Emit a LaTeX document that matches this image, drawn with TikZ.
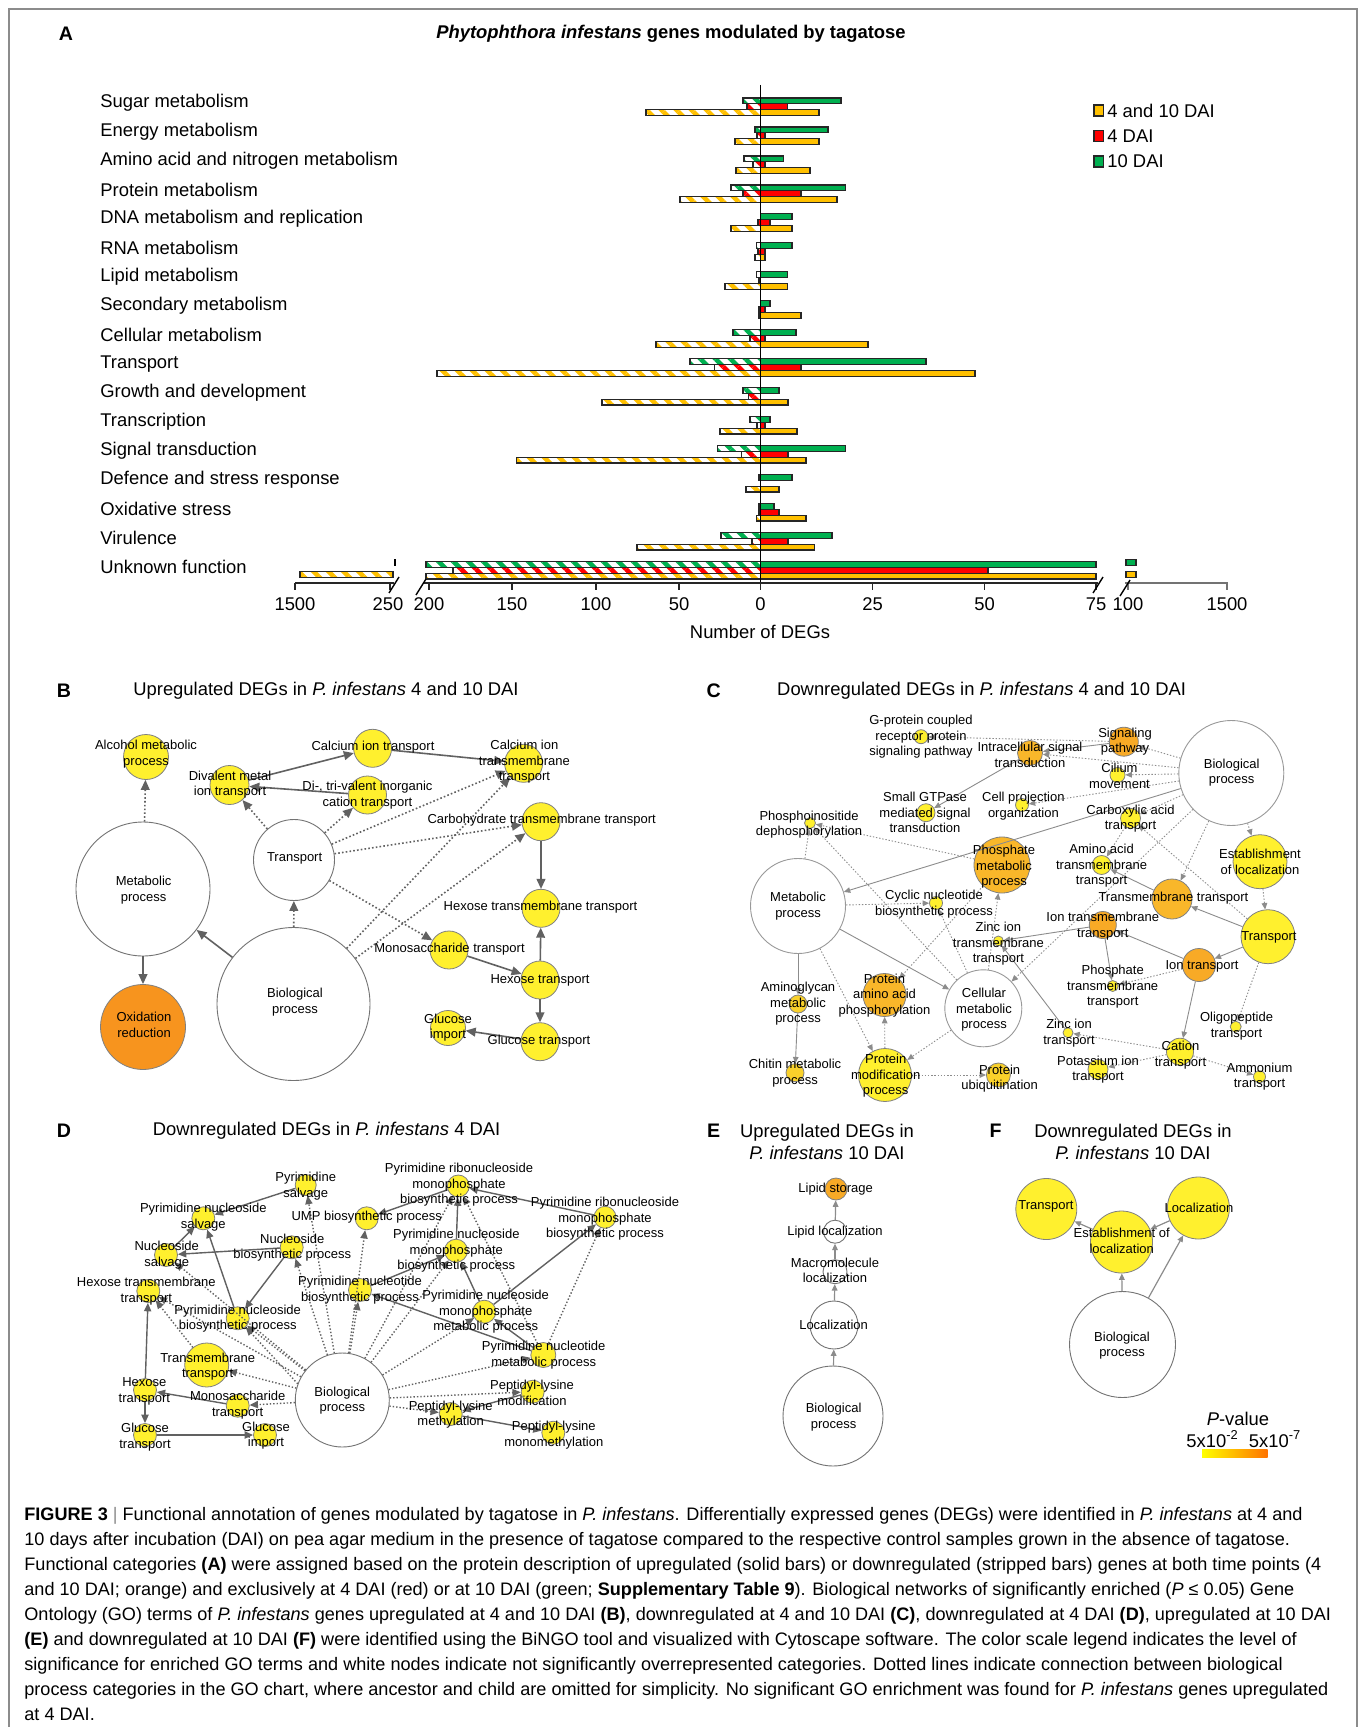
\documentclass[tikz,border=0pt]{standalone}
\usepackage{fontspec}
\setmainfont{Liberation Sans}
\newfontfamily\capfont{Liberation Sans}
\usetikzlibrary{shapes.geometric,arrows.meta,patterns.meta}
\definecolor{cgold}{HTML}{FFC000}
\definecolor{cred}{HTML}{FF0000}
\definecolor{cgreen}{HTML}{00B050}
\definecolor{ny}{HTML}{FFF02E}
\definecolor{nyo}{HTML}{F9D12B}
\definecolor{no1}{HTML}{F9B72A}
\definecolor{no}{HTML}{F8AA26}
\definecolor{nod}{HTML}{F7941E}
\newcommand\nf{\fontsize{6.5}{7.7}\selectfont}
\newcommand\tf{\fontsize{9.2}{11}\selectfont}
\tikzset{
 barl/.style={draw=black!85, line width=0.6pt},
 hatchG/.style={preaction={fill=white}, preaction={pattern={Lines[angle=-45,distance=5.3pt,line width=2.3pt]}, pattern color=cgreen}},
 hatchR/.style={preaction={fill=white}, preaction={pattern={Lines[angle=-45,distance=5.3pt,line width=2.3pt]}, pattern color=cred}},
 hatchO/.style={preaction={fill=white}, preaction={pattern={Lines[angle=-45,distance=5.3pt,line width=2.3pt]}, pattern color=cgold}},
 catl/.style={font=\tf, anchor=west, inner sep=0},
 tick/.style={font=\tf, inner sep=0},
 yn/.style={circle, draw=black!50, line width=0.4pt, fill=ny, inner sep=0},
 wn/.style={circle, draw=black!55, line width=0.45pt, fill=white, inner sep=0},
 lb/.style={font=\nf, align=center, inner sep=0},
 eBs/.style={draw=black!62, line width=0.8pt, -{Triangle[length=5pt,width=4.4pt]}},
 eBd/.style={eBs, dash pattern=on 0.8pt off 1.1pt},
 eCs/.style={draw=black!45, line width=0.45pt, -{Triangle[length=3.2pt,width=2.8pt]}},
 eCd/.style={eCs, dash pattern=on 0.7pt off 0.9pt},
 eDs/.style={draw=black!62, line width=0.7pt, -{Triangle[length=4.2pt,width=3.6pt]}},
 eDd/.style={eDs, dash pattern=on 0.7pt off 1pt},
 plet/.style={font=\fontsize{9.8}{11}\selectfont\bfseries, inner sep=0},
 capl/.style={anchor=base west, inner sep=0, font=\capfont\fontsize{9.05}{10}\selectfont},
}
\begin{document}
\begin{tikzpicture}[x=0.5pt,y=-0.5pt]
\useasboundingbox (0,0) rectangle (1360,1727);
\fill[white] (0,0) rectangle (1360,1727);
\draw[black!45, line width=0.8pt] (9,1727) -- (9,9) -- (1357,9) -- (1357,1727);

% ---------------- Panel A ----------------
\node[plet] (lA) at (66,34) {A};
\node[font=\tf\bfseries, inner sep=0] (tA) at (671,34) {\itshape Phytophthora infestans\upshape{} genes modulated by tagatose};

\foreach \i/\gR/\gL/\rR/\rL/\oR/\oL in {
0/841/743/787.5/747/819/646,
1/828/755/765/757/819/735,
2/783.5/744/765/753/810/736,
3/845.5/731/801/743/837/680,
4/792/760.5/770/758/792/731,
5/792/756.5/765/758/765/755,
6/787.5/756.5/760.5/759/787.5/725,
7/770/760.5/765/759/801/759,
8/796/733/765/750/868/656,
9/926/690/801/714.5/975/437,
10/779/743/760.5/748.5/788/602,
11/770/750/765/757/797/720,
12/845.5/717.5/788/741.6/806/516.5,
13/792/759/760.5/760.5/779/746,
14/774/759/779/759/806/756.5,
15/832/721/788/752/814.5/637,
16/1096/426/988/453/1096/426}{
 \pgfmathsetmacro\ta{98+28.97*\i}
 \pgfmathsetmacro\tb{\ta+5.8}
 \pgfmathsetmacro\tc{\ta+11.6}
 \pgfmathsetmacro\td{\ta+17.4}
 \draw[barl, hatchG] (\gL,\ta) rectangle (760.5,\tb);
 \draw[barl, hatchR] (\rL,\tb) rectangle (760.5,\tc);
 \draw[barl, hatchO] (\oL,\tc) rectangle (760.5,\td);
 \draw[barl, fill=cgreen] (760.5,\ta) rectangle (\gR,\tb);
 \draw[barl, fill=cred] (760.5,\tb) rectangle (\rR,\tc);
 \draw[barl, fill=cgold] (760.5,\tc) rectangle (\oR,\td);
}
% extra segments of Unknown function
\draw[barl, hatchO] (300,571.7) rectangle (393,577.5);
\draw[barl, fill=cgreen] (1126,559.5) rectangle (1136,565.3);
\draw[barl, fill=cgold] (1126,571.7) rectangle (1136,577.5);
\draw[black, line width=0.6pt] (395,559) -- (395,566);

\foreach \i/\t in {0/Sugar metabolism,1/Energy metabolism,2/Amino acid and nitrogen metabolism,3/Protein metabolism,4/DNA metabolism and replication,5/RNA metabolism,6/Lipid metabolism,7/Secondary metabolism,8/Cellular metabolism,9/Transport,10/Growth and development,11/Transcription,12/Signal transduction,13/Defence and stress response,14/Oxidative stress,15/Virulence,16/Unknown function}{
 \node[catl] (cat\i) at (100,103+28.97*\i) {\t};
}
% zero line and axis
\draw[black, line width=0.8pt] (760.5,85) -- (760.5,583);
\draw[black!85, line width=0.8pt] (295,583) -- (394,583);
\draw[black!85, line width=0.8pt] (423,583) -- (1098,583);
\draw[black!55, line width=0.8pt] (1125,583) -- (1228,583);
\foreach \x in {295,390,429,512,596,679,760.5,872.5,984.5,1096}{\draw[black!85, line width=0.7pt] (\x,583) -- (\x,590);}
\foreach \x in {1128,1227}{\draw[black!55, line width=0.7pt] (\x,583) -- (\x,590);}
\foreach \x/\y in {394/585,421/587,1098/585,1125/588}{\draw[black, line width=0.7pt] (\x-5,\y+8) -- (\x+5,\y-8);}
\foreach \x/\l in {295/1500,388/250,429/200,512/150,596/100,679/50,760.5/0,872.5/25,984.5/50,1096/75,1128/100,1227/1500}{\node[tick] at (\x,604.5) {\l};}
\node[tick] (xlab) at (760,632) {Number of DEGs};
% legend
\draw[barl, fill=cgold] (1094,105) rectangle (1103.5,116);
\draw[barl, fill=cred] (1094,130.5) rectangle (1103.5,141.5);
\draw[barl, fill=cgreen] (1094,156) rectangle (1103.5,167);
\node[catl] (lg1) at (1107,110.5) {4 and 10 DAI};
\node[catl] (lg2) at (1107,136) {4 DAI};
\node[catl] (lg3) at (1107,161.5) {10 DAI};

% ---------------- Panel B ----------------
\node[plet] (lB) at (64,690.5) {B};
\node[font=\tf, inner sep=0] (tB) at (326,690.5) {Upregulated DEGs in \textit{P. infestans} 4 and 10 DAI};
\node[wn, minimum size=67pt] (bMP) at (143,889) {};
\node[circle, draw=black!50, fill=nod, inner sep=0, minimum size=42.5pt] (bOX) at (143,1027) {};
\node[wn, minimum size=76.5pt] (bBP) at (293.5,1004) {};
\node[wn, minimum size=40.5pt] (bTR) at (294,860) {};
\node[yn, minimum size=22.5pt] (bAL) at (146,757) {};
\node[yn, minimum size=19.5pt] (bDV) at (229.5,785) {};
\node[yn, minimum size=19pt] (bCA) at (372.6,748.3) {};
\node[yn, minimum size=19pt] (bDT) at (367.5,795) {};
\node[yn, minimum size=19pt] (bCT) at (523.6,763.3) {};
\node[yn, minimum size=19pt] (bCH) at (541,821.7) {};
\node[yn, minimum size=19pt] (bHM) at (541,908.3) {};
\node[yn, minimum size=19pt] (bMS) at (449,950) {};
\node[yn, minimum size=19pt] (bHT) at (540,980) {};
\node[yn, minimum size=17.5pt] (bGI) at (448,1028) {};
\node[yn, minimum size=19pt] (bGT) at (540,1041.7) {};
\draw[eBd] (bMP) -- (bAL);
\draw[eBs] (bMP) -- (bOX);
\draw[eBs] (bBP) -- (bMP);
\draw[eBd] (bBP) -- (bTR);
\draw[eBd] (bTR) -- (bDV);
\draw[eBd] (bTR) -- (bDT);
\draw[eBd] (bTR) -- (bCT);
\draw[eBd] (bTR) -- (bCH);
\draw[eBd] (bTR) -- (bMS);
\draw[eBd] (bBP) -- (bCT);
\draw[eBd] (bBP) -- (bCH);
\draw[eBs] (bDV) -- (bCA);
\draw[eBs] (bDT) -- (bDV);
\draw[eBs] (bCA) -- (bCT);
\draw[eBs] (bCH) -- (bHM);
\draw[eBs] (bHT) -- (bHM);
\draw[eBs] (bMS) -- (bHT);
\draw[eBs] (bHT) -- (bGT);
\draw[eBs] (bGT) -- (bGI);
\node[lb] (bALl) at (146,754) {Alcohol metabolic\\process};
\node[lb] (bDVl) at (230,784.5) {Divalent metal\\ion transport};
\node[lb] (bCAl) at (373,747) {Calcium ion transport};
\node[lb] (bDTl) at (367.5,795) {Di-, tri-valent inorganic\\cation transport};
\node[lb] (bCTl) at (524.4,761.7) {Calcium ion\\transmembrane\\transport};
\node[lb] (bCHl) at (541.7,820) {Carbohydrate transmembrane transport};
\node[lb] (bHMl) at (540.5,907) {Hexose transmembrane transport};
\node[lb] (bMSl) at (449.5,949) {Monosaccharide transport};
\node[lb] (bHTl) at (540,980.7) {Hexose transport};
\node[lb] (bGIl) at (448,1027.8) {Glucose\\import};
\node[lb] (bGTl) at (539,1040.7) {Glucose transport};
\node[lb] (bTRl) at (294.6,858) {Transport};
\node[lb] (bMPl) at (143.6,890) {Metabolic\\process};
\node[lb] (bBPl) at (295,1002) {Biological\\process};
\node[lb] (bOXl) at (144,1024.7) {Oxidation\\reduction};

% ---------------- Panel C ----------------
\node[plet] (lC) at (713.6,690.5) {C};
\node[font=\tf, inner sep=0] (tC) at (981.6,690.5) {Downregulated DEGs in \textit{P. infestans} 4 and 10 DAI};
\node[yn, minimum size=7pt] (cG) at (921,736.7) {};
\node[yn, fill=no1, minimum size=12.5pt] (cIS) at (1030,753) {};
\node[yn, fill=no, minimum size=14.5pt] (cSP) at (1123.8,741.7) {};
\node[yn, minimum size=7.5pt] (cCM) at (1117.5,775) {};
\node[wn, minimum size=52.5pt, draw=black!40] (cBP) at (1231.3,773) {};
\node[yn, minimum size=9pt] (cSG) at (926,812.7) {};
\node[yn, minimum size=6.5pt] (cCP) at (1022,805) {};
\node[yn, minimum size=5.5pt] (cPI) at (810,823) {};
\node[yn, minimum size=10pt] (cCA) at (1130.5,818.3) {};
\node[yn, fill=no1, minimum size=28pt] (cPM) at (1002,865) {};
\node[yn, minimum size=9.5pt] (cAA) at (1101.6,865) {};
\node[yn, minimum size=27pt] (cEL) at (1260,861.7) {};
\node[wn, minimum size=47.5pt, draw=black!40] (cMP) at (798,906) {};
\node[yn, minimum size=6.5pt] (cCN) at (936,903) {};
\node[yn, fill=no1, minimum size=20pt] (cTT) at (1172,899) {};
\node[yn, minimum size=27pt] (cTR) at (1268,936.7) {};
\node[yn, fill=no, minimum size=13.5pt] (cIT) at (1102.8,925) {};
\node[yn, minimum size=5pt] (cZT) at (998.4,941) {};
\node[yn, fill=no, minimum size=16.5pt] (cIO) at (1199,965) {};
\node[yn, fill=no1, minimum size=21.5pt] (cPP) at (884.5,995) {};
\node[wn, minimum size=38.5pt, draw=black!40] (cCE) at (983.3,1008.3) {};
\node[yn, minimum size=5.5pt] (cPT) at (1112.7,986) {};
\node[yn, fill=nyo, minimum size=9pt] (cAG) at (798,1004) {};
\node[yn, minimum size=5pt] (cZI) at (1068,1032.7) {};
\node[yn, minimum size=5.5pt] (cOL) at (1235.7,1026.7) {};
\node[yn, minimum size=13.5pt] (cCT) at (1180,1051.7) {};
\node[yn, fill=nyo, minimum size=9pt] (cCH) at (795,1072.7) {};
\node[yn, minimum size=26.5pt] (cPMo) at (885,1075) {};
\node[yn, fill=nyo, minimum size=12pt] (cPU) at (998.4,1075) {};
\node[yn, minimum size=10pt] (cPO) at (1098,1069.3) {};
\node[yn, minimum size=6pt] (cAM) at (1259.5,1076.7) {};
\draw[eCd] (cBP) -- (cSP);
\draw[eCd] (cBP) -- (cCM);
\draw[eCd] (cBP) -- (cIS);
\draw[eCd] (cSP) -- (cG);
\draw[eCs] (cSP) -- (cIS);
\draw[eCs] (cIS) -- (cSG);
\draw[eCd] (cBP) -- (cCP);
\draw[eCs] (cBP) -- (cMP);
\draw[eCd] (cBP) -- (cCA);
\draw[eCd] (cBP) -- (cEL);
\draw[eCd] (cBP) -- (cCE);
\draw[eCd] (cBP) -- (cTT);
\draw[eCd] (cEL) -- (cTR);
\draw[eCd] (cCA) -- (cAA);
\draw[eCd] (cTR) -- (cCA);
\draw[eCs] (cTT) -- (cAA);
\draw[eCs] (cTR) -- (cTT);
\draw[eCs] (cTR) -- (cIO);
\draw[eCs] (cIO) -- (cIT);
\draw[eCs] (cIT) -- (cZT);
\draw[eCs] (cIT) -- (cPT);
\draw[eCd] (cIO) -- (cPT);
\draw[eCs] (cIO) -- (cCT);
\draw[eCd] (cTR) -- (cOL);
\draw[eCd] (cCT) -- (cZI);
\draw[eCd] (cCT) -- (cPO);
\draw[eCd] (cCT) -- (cAM);
\draw[eCs] (cZI) -- (cZT);
\draw[eCd] (cMP) -- (cCN);
\draw[eCs] (cMP) -- (cCE);
\draw[eCs] (cMP) -- (cAG);
\draw[eCs] (cAG) -- (cCH);
\draw[eCd] (cMP) -- (cPMo);
\draw[eCd] (cCE) -- (cPMo);
\draw[eCd] (cPMo) -- (cPP);
\draw[eCd] (cPMo) -- (cPU);
\draw[eCd] (cCE) -- (cPM);
\draw[eCd] (cCE) -- (cCN);
\draw[eCd] (cPM) -- (cPP);
\draw[eCd] (cPM) -- (cPI);
\draw[eCd] (cMP) -- (cPI);
\draw[eCd] (cCE) -- (cPI);
\node[lb] (cGl) at (921,737) {G-protein coupled\\receptor protein\\signaling pathway};
\node[lb] (cISl) at (1030,755) {Intracellular signal\\transduction};
\node[lb] (cSPl) at (1125,741.7) {Signaling\\pathway};
\node[lb] (cCMl) at (1119.5,776) {Cilium\\movement};
\node[lb] (cBPl) at (1231.7,772.8) {Biological\\process};
\node[lb] (cSGl) at (925,812.7) {Small GTPase\\mediated signal\\transduction};
\node[lb] (cCPl) at (1023.4,806) {Cell projection\\organization};
\node[lb] (cPIl) at (809,824.7) {Phosphoinositide\\dephosphorylation};
\node[lb] (cCAl) at (1130.5,818.7) {Carboxylic acid\\transport};
\node[lb] (cPMl) at (1004,866.7) {Phosphate\\metabolic\\process};
\node[lb] (cAAl) at (1101.6,865.7) {Amino acid\\transmembrane\\transport};
\node[lb] (cELl) at (1260,862) {Establishment\\of localization};
\node[lb] (cMPl) at (798,906.3) {Metabolic\\process};
\node[lb] (cCNl) at (934,904) {Cyclic nucleotide\\biosynthetic process};
\node[lb] (cTTl) at (1173.4,898) {Transmembrane transport};
\node[lb] (cTRl) at (1269,937) {Transport};
\node[lb] (cITl) at (1102.8,926) {Ion transmembrane\\transport};
\node[lb] (cZTl) at (998.4,944) {Zinc ion\\transmembrane\\transport};
\node[lb] (cIOl) at (1202,966) {Ion transport};
\node[lb] (cPPl) at (884.5,995.3) {Protein\\amino acid\\phosphorylation};
\node[lb] (cCEl) at (984,1010) {Cellular\\metabolic\\process};
\node[lb] (cPTl) at (1112.7,986.7) {Phosphate\\transmembrane\\transport};
\node[lb] (cAGl) at (798,1004) {Aminoglycan\\metabolic\\process};
\node[lb] (cZIl) at (1069,1033) {Zinc ion\\transport};
\node[lb] (cOLl) at (1236.5,1026.3) {Oligopeptide\\transport};
\node[lb] (cCTl) at (1180.5,1055) {Cation\\transport};
\node[lb] (cCHl) at (795,1073) {Chitin metabolic\\process};
\node[lb] (cPMol) at (885.7,1075.7) {Protein\\modification\\process};
\node[lb] (cPUl) at (999.6,1078.8) {Protein\\ubiquitination};
\node[lb] (cPOl) at (1098,1069.8) {Potassium ion\\transport};
\node[lb] (cAMl) at (1259.5,1076.7) {Ammonium\\transport};

% ---------------- Panel D ----------------
\node[plet] (lD) at (64,1131) {D};
\node[font=\tf, inner sep=0] (tD) at (326.6,1131) {Downregulated DEGs in \textit{P. infestans} 4 DAI};
\node[yn, minimum size=10.5pt] (dPS) at (305.7,1185) {};
\node[yn, minimum size=11.5pt] (dPNS) at (203.3,1218.3) {};
\node[yn, minimum size=11.5pt] (dUMP) at (366.7,1218.3) {};
\node[yn, minimum size=11pt] (dPR1) at (458.3,1186) {};
\node[yn, minimum size=11pt] (dPR2) at (605,1217.3) {};
\node[yn, minimum size=11.5pt] (dNS) at (166,1255) {};
\node[yn, minimum size=11.5pt] (dNB) at (291.7,1247.3) {};
\node[yn, minimum size=11.5pt] (dPNMB) at (456,1250.7) {};
\node[yn, minimum size=11.5pt] (dHTT) at (148.3,1291) {};
\node[yn, minimum size=11.5pt] (dPNtB) at (360,1290) {};
\node[yn, minimum size=11.5pt] (dPNB) at (237.7,1318.3) {};
\node[yn, minimum size=11.5pt] (dPNMM) at (484.3,1311.7) {};
\node[yn, minimum size=22pt] (dTT) at (206.7,1365) {};
\node[yn, minimum size=12.5pt] (dPNtM) at (543.3,1355) {};
\node[wn, minimum size=47pt] (dBP) at (342.3,1400) {};
\node[yn, minimum size=11.5pt] (dHT) at (145,1390) {};
\node[yn, minimum size=11.5pt] (dMS) at (237.7,1405.7) {};
\node[yn, minimum size=11.5pt] (dPLmod) at (532.7,1391.7) {};
\node[yn, minimum size=11.5pt] (dPLme) at (450.7,1414) {};
\node[yn, minimum size=11.5pt] (dGT) at (145,1435) {};
\node[yn, minimum size=11.5pt] (dGI) at (265,1435) {};
\node[yn, minimum size=11.5pt] (dPLmm) at (553.3,1432.7) {};
\draw[eDs] (dPS) -- (dPNS);
\draw[eDs] (dNS) -- (dPNS);
\draw[eDs] (dPNB) -- (dPNS);
\draw[eDs] (dNB) -- (dNS);
\draw[eDs] (dNB) -- (dPNB);
\draw[eDs] (dHT) -- (dHTT);
\draw[eDs] (dHT) -- (dGT);
\draw[eDs] (dGT) -- (dGI);
\draw[eDs] (dMS) -- (dHT);
\draw[eDd] (dTT) -- (dHTT);
\draw[eDd] (dBP) -- (dTT);
\draw[eDd] (dBP) -- (dMS);
\draw[eDd] (dBP) -- (dHTT);
\draw[eDd] (dBP) -- (dNS);
\draw[eDd] (dBP) -- (dPNB);
\draw[eDd] (dBP.160) -- (dPNB);
\draw[eDd] (dBP) -- (dPS);
\draw[eDd] (dBP) -- (dNB);
\draw[eDd] (dBP) -- (dPNtB);
\draw[eDd] (dBP) -- (dUMP);
\draw[eDd] (dBP) -- (dPR1);
\draw[eDd] (dBP) -- (dPNMB);
\draw[eDd] (dBP) -- (dPNMM);
\draw[eDd] (dBP) -- (dPNtM);
\draw[eDd] (dBP) -- (dPLmod);
\draw[eDd] (dBP) -- (dPLme);
\draw[eDs] (dPLmod) -- (dPLme);
\draw[eDs] (dPLme) -- (dPLmm);
\draw[eDs] (dPR1) -- (dUMP);
\draw[eDs] (dPR2) -- (dPR1);
\draw[eDs] (dPNMB) -- (dPR1);
\draw[eDs] (dPNtB) -- (dPNMB);
\draw[eDs] (dPNMM) -- (dPNMB);
\draw[eDs] (dPNMM) -- (dPR2);
\draw[eDs] (dPNtM) -- (dPNMM);
\draw[eDs] (dPNtM) -- (dPNtB);
\draw[eDd] (dPNtM) -- (dPR1);
\draw[eDd] (dPNtM) -- (dPR2);
\node[lb] (dPSl) at (305.7,1186) {Pyrimidine\\salvage};
\node[lb] (dPNSl) at (203.3,1217) {Pyrimidine nucleoside\\salvage};
\node[lb] (dUMPl) at (366.7,1217.3) {UMP biosynthetic process};
\node[lb] (dPR1l) at (459,1185) {Pyrimidine ribonucleoside\\monophosphate\\biosynthetic process};
\node[lb] (dPR2l) at (605,1219) {Pyrimidine ribonucleoside\\monophosphate\\biosynthetic process};
\node[lb] (dNSl) at (166.7,1255.3) {Nucleoside\\salvage};
\node[lb] (dNBl) at (292.3,1247.8) {Nucleoside\\biosynthetic process};
\node[lb] (dPNMBl) at (456.3,1250.7) {Pyrimidine nucleoside\\monophosphate\\biosynthetic process};
\node[lb] (dHTTl) at (146.3,1291.3) {Hexose transmembrane\\transport};
\node[lb] (dPNtBl) at (360,1290) {Pyrimidine nucleotide\\biosynthetic process};
\node[lb] (dPNBl) at (237.7,1318.7) {Pyrimidine nucleoside\\biosynthetic process};
\node[lb] (dPNMMl) at (485.7,1311.7) {Pyrimidine nucleoside\\monophosphate\\metabolic process};
\node[lb] (dTTl) at (207.7,1366.7) {Transmembrane\\transport};
\node[lb] (dPNtMl) at (543.7,1355) {Pyrimidine nucleotide\\metabolic process};
\node[lb] (dBPl) at (342.3,1400.5) {Biological\\process};
\node[lb] (dHTl) at (144.3,1391.3) {Hexose\\transport};
\node[lb] (dMSl) at (237.7,1405.3) {Monosaccharide\\transport};
\node[lb] (dPLmodl) at (532,1392.8) {Peptidyl-lysine\\modification};
\node[lb] (dPLmel) at (450.7,1414.7) {Peptidyl-lysine\\methylation};
\node[lb] (dGTl) at (145,1437) {Glucose\\transport};
\node[lb] (dGIl) at (266,1435.8) {Glucose\\import};
\node[lb] (dPLmml) at (553.8,1435) {Peptidyl-lysine\\monomethylation};

% ---------------- Panel E ----------------
\node[plet] (lE) at (713.6,1131) {E};
\node[font=\tf, inner sep=0, align=center] (tE) at (827,1142) {Upregulated DEGs in\\\textit{P. infestans} 10 DAI};
\node[yn, fill=no, minimum size=11pt] (eLS) at (836,1189) {};
\node[wn, minimum size=11.5pt] (eLL) at (835,1231.7) {};
\node[wn, minimum size=12pt] (eML) at (835,1271.7) {};
\node[wn, minimum size=24pt] (eLO) at (834,1325) {};
\node[wn, minimum size=50pt] (eBP) at (833,1416) {};
\draw[eCs, line width=0.6pt] (eBP) -- (eLO);
\draw[eCs, line width=0.6pt] (eLO) -- (eML);
\draw[eCs, line width=0.6pt] (eML) -- (eLL);
\draw[eCs, line width=0.6pt] (eLL) -- (eLS);
\node[lb] (eLSl) at (835.7,1189) {Lipid storage};
\node[lb] (eLLl) at (835,1232) {Lipid localization};
\node[lb] (eMLl) at (835,1270.5) {Macromolecule\\localization};
\node[lb] (eLOl) at (833.6,1325) {Localization};
\node[lb] (eBPl) at (833.6,1417) {Biological\\process};

% ---------------- Panel F ----------------
\node[plet] (lF) at (995.5,1131) {F};
\node[font=\tf, inner sep=0, align=center] (tF) at (1133,1142) {Downregulated DEGs in\\\textit{P. infestans} 10 DAI};
\node[yn, minimum size=30.5pt] (fTR) at (1046.3,1209) {};
\node[yn, minimum size=31pt] (fLO) at (1198.4,1208) {};
\node[yn, minimum size=31pt] (fEL) at (1121.5,1242) {};
\node[wn, minimum size=53pt] (fBP) at (1122.5,1344.5) {};
\draw[eCs, line width=0.6pt] (fBP) -- (fEL);
\draw[eCs, line width=0.6pt] (fBP) -- (fLO);
\draw[eCs, line width=0.6pt] (fEL) -- (fTR);
\draw[eCs, line width=0.6pt] (fLO) -- (fEL);
\node[lb] (fTRl) at (1046,1206.7) {Transport};
\node[lb] (fLOl) at (1199,1208) {Localization};
\node[lb] (fELl) at (1121.7,1240.8) {Establishment of\\localization};
\node[lb] (fBPl) at (1122,1345.5) {Biological\\process};
% P-value legend
\node[font=\tf, inner sep=0] (pv) at (1238,1419) {\textit{P}-value};
\node[font=\tf, inner sep=0] (pvs) at (1243.8,1439.3) {5x10\textsuperscript{-2}\ \ 5x10\textsuperscript{-7}};
\shade[left color=yellow, right color=orange!90!red] (1202,1449.3) rectangle (1267.6,1457.7);

% ---------------- Caption ----------------
\node[capl] (c1) at (24,1520) {\textbf{FIGURE 3} \textcolor{black!45}{|} Functional annotation of genes modulated by tagatose in \textit{P. infestans}. Differentially expressed genes (DEGs) were identified in \textit{P. infestans} at 4 and};
\node[capl] (c2) at (24,1545) {10 days after incubation (DAI) on pea agar medium in the presence of tagatose compared to the respective control samples grown in the absence of tagatose.};
\node[capl] (c3) at (24,1570) {Functional categories \textbf{(A)} were assigned based on the protein description of upregulated (solid bars) or downregulated (stripped bars) genes at both time points (4};
\node[capl] (c4) at (24,1595) {and 10 DAI; orange) and exclusively at 4 DAI (red) or at 10 DAI (green; \textbf{Supplementary Table 9}). Biological networks of significantly enriched (\textit{P} ≤ 0.05) Gene};
\node[capl] (c5) at (24,1620) {Ontology (GO) terms of \textit{P. infestans} genes upregulated at 4 and 10 DAI \textbf{(B)}, downregulated at 4 and 10 DAI \textbf{(C)}, downregulated at 4 DAI \textbf{(D)}, upregulated at 10 DAI};
\node[capl] (c6) at (24,1645) {\textbf{(E)} and downregulated at 10 DAI \textbf{(F)} were identified using the BiNGO tool and visualized with Cytoscape software. The color scale legend indicates the level of};
\node[capl] (c7) at (24,1670) {significance for enriched GO terms and white nodes indicate not significantly overrepresented categories. Dotted lines indicate connection between biological};
\node[capl] (c8) at (24,1695) {process categories in the GO chart, where ancestor and child are omitted for simplicity. No significant GO enrichment was found for \textit{P. infestans} genes upregulated};
\node[capl] (c9) at (24,1720) {at 4 DAI.};
\end{tikzpicture}
\end{document}
